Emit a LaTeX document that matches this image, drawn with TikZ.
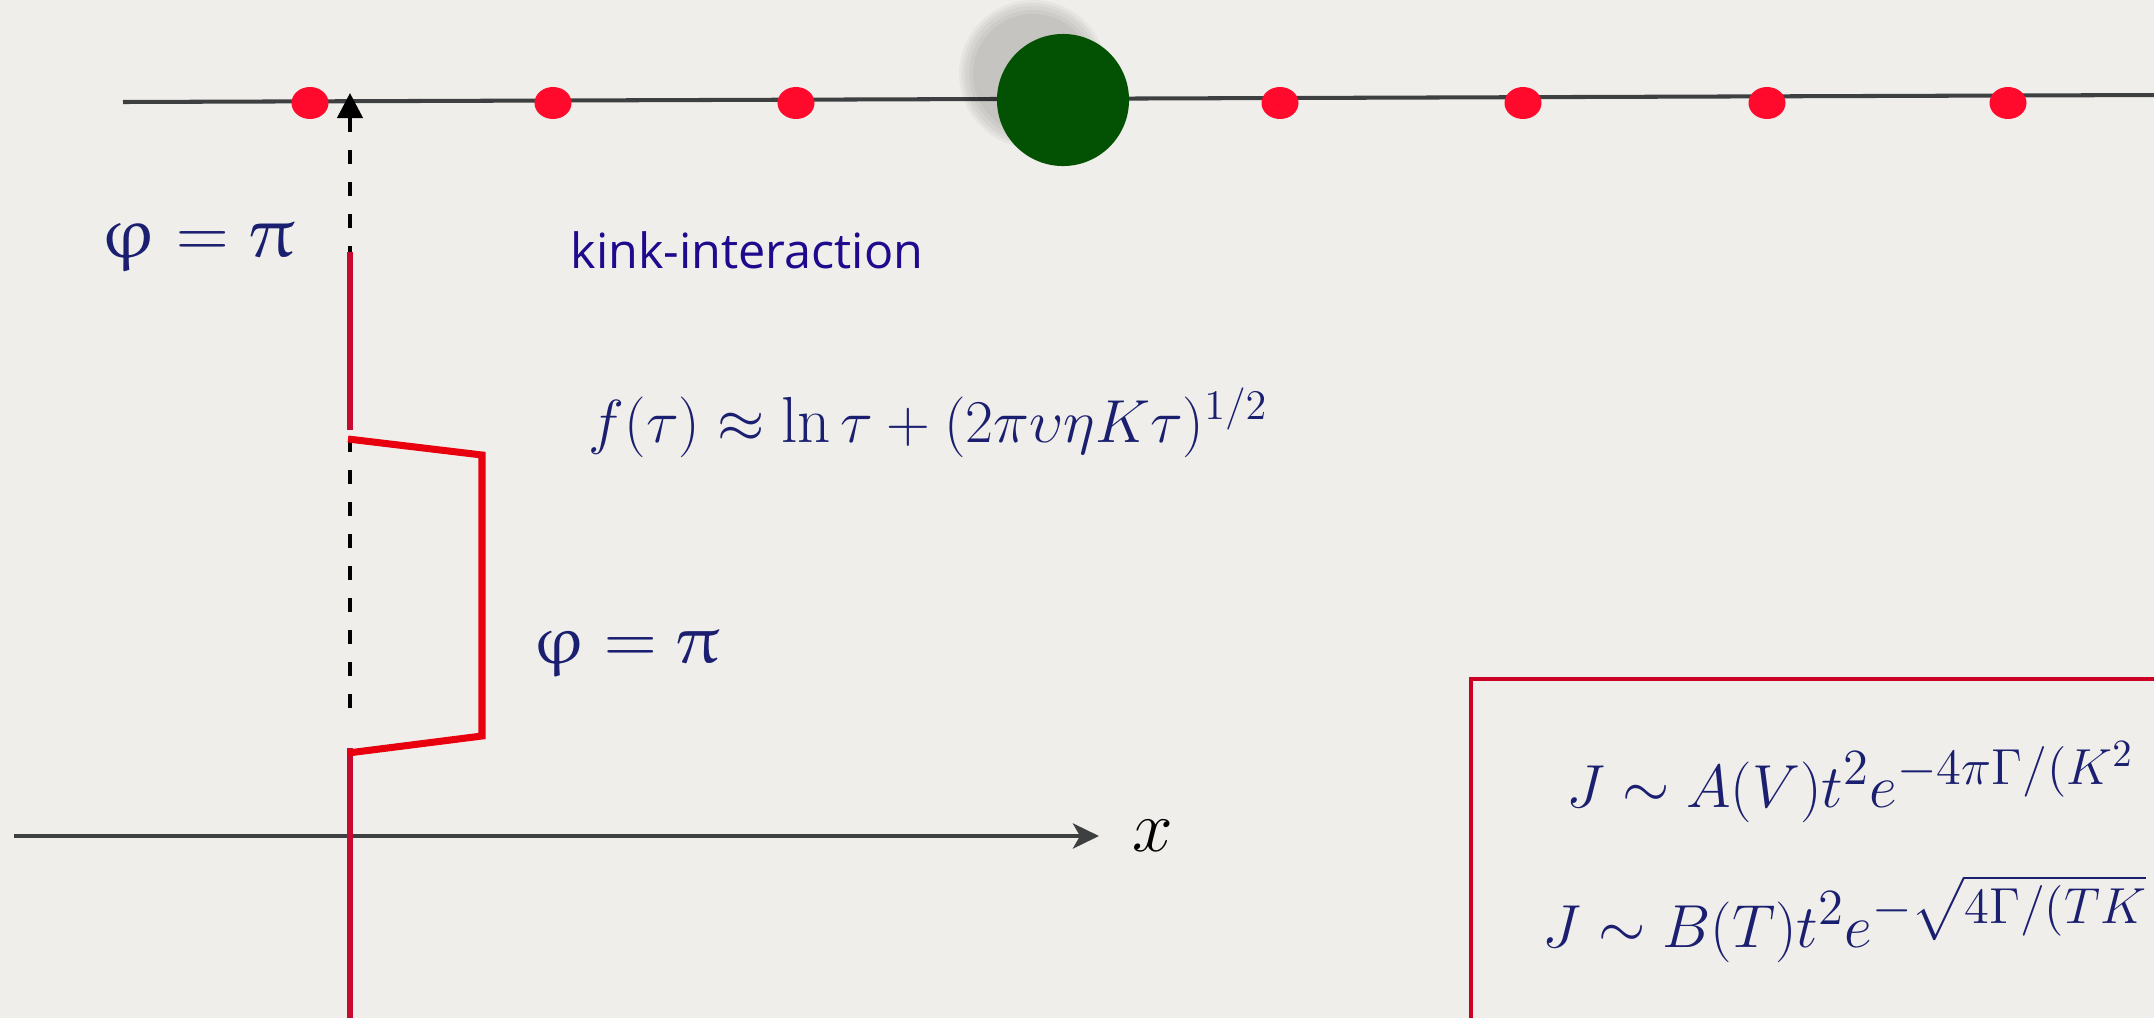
\documentclass[tikz,border=0pt]{standalone}
\usepackage{amsmath}
\usepackage{amssymb}
\usepackage{xcolor}
\usepackage{fontspec}
\newfontfamily\kinkfont{Open Sans}
\usetikzlibrary{arrows.meta,shapes.geometric}
\newcommand{\eulch}[1]{{\usefont{U}{eur}{m}{n}\char#1}}
\newcommand{\phasepi}{\eulch{39}\hspace{0.2778em}$=$\hspace{0.2778em}\eulch{25}}
\newcommand{\bigexp}[1]{\mbox{\fontsize{15}{18}\selectfont$#1$}}
\definecolor{paper}{HTML}{EFEEEA}
\definecolor{lineink}{HTML}{3E3F41}
\definecolor{dotred}{HTML}{FF0A2D}
\definecolor{wallred}{HTML}{C80A32}
\definecolor{bendred}{HTML}{E8000E}
\definecolor{boxred}{HTML}{CC0025}
\definecolor{kinkgreen}{HTML}{035203}
\definecolor{formulablue}{HTML}{1B1F70}
\definecolor{labelindigo}{HTML}{1E0A8C}

\begin{document}
\begin{tikzpicture}[
  x=0.01cm,
  y=-0.01cm,
  every node/.style={inner sep=0pt, formulablue},
  chain/.style={lineink, line width=1.15pt},
  axis/.style={lineink, line width=1.3pt,
               -{Stealth[length=0.26cm, width=0.25cm, inset=0.07cm]}},
  guide/.style={black, line width=1.2pt, dash pattern=on 0.14cm off 0.18cm,
                -{Triangle[length=0.25cm, width=0.25cm]}},
  wall/.style={wallred, line width=1.8pt},
  wallbend/.style={bendred, line width=2pt, line join=miter},
  boxline/.style={boxred, line width=1.4pt},
  sitept/.style={ellipse, fill=dotred, minimum width=0.37cm,
                 minimum height=0.32cm},
  kinkpt/.style={circle, fill=kinkgreen, minimum size=1.32cm},
  phaselbl/.style={anchor=base west},
  eqlbl/.style={anchor=base west, font=\fontsize{19}{23}\selectfont}
]
  % ---- page ----
  \useasboundingbox (0,0) rectangle (2154,1018);
  \fill[paper] (0,0) rectangle (2154,1018);
  \clip (0,0) rectangle (2154,1018);

  % ---- chain of sites ----
  \coordinate (chainL) at (123,102);
  \coordinate (chainR) at (2160,95);
  \draw[chain] (chainL) -- (chainR);

  % ---- kink with its soft shadow ----
  \foreach \r in {74,71,68,64,60}
    \fill[black, opacity=0.035] (1033,74) circle[radius=\r];
  \node[kinkpt] (kink) at (1063,100) {};

  % ---- lattice sites ----
  \foreach \x [count=\i] in {310,553,796,1280,1523,1767,2008}
    \node[sitept] (site\i) at (\x,103) {};

  % ---- x axis ----
  \coordinate (axisL) at (14,836);
  \coordinate (axisR) at (1099,836);
  \draw[axis] (axisL) -- (axisR);
  \node[anchor=base west, black, font=\fontsize{21}{24}\selectfont]
    (xlbl) at (1132,851) {$x$};

  % ---- straight path of the wall (dashed, under the wall) ----
  \coordinate (guideB) at (350,708);
  \coordinate (guideT) at (350,93);
  \draw[guide] (guideB) -- (guideT);

  % ---- phase wall and its bent part ----
  \coordinate (wallA) at (350,252);
  \coordinate (wallB) at (350,430);
  \coordinate (wallC) at (350,748);
  \coordinate (wallD) at (350,1030);
  \draw[wall] (wallA) -- (wallB);
  \draw[wall] (wallC) -- (wallD);
  \coordinate (bendA) at (348,439);
  \coordinate (bendB) at (482,455);
  \coordinate (bendC) at (482,736);
  \coordinate (bendD) at (348,753);
  \draw[wallbend] (bendA) -- (bendB) -- (bendC) -- (bendD);

  % ---- labels ----
  \node[phaselbl, font=\fontsize{20.7}{24}\selectfont] (phitop) at (100,257) {\phasepi};
  \node[phaselbl, font=\fontsize{19.7}{23}\selectfont] (phimid) at (532,663) {\phasepi};
  \node[anchor=base west, labelindigo, font=\kinkfont\fontsize{13.8}{16}\selectfont]
    (kinklbl) at (570,268) {kink-interaction};
  \node[anchor=base west, font=\fontsize{18.5}{22}\selectfont] (ftau) at (588,442)
    {$f(\tau)\approx\ln\tau+(2\pi\upsilon\eta K\tau)^{1/2}$};

  % ---- current box ----
  \coordinate (boxBL) at (1471,1040);
  \coordinate (boxTL) at (1471,679);
  \coordinate (boxTR) at (2180,679);
  \draw[boxline] (boxBL) -- (boxTL) -- (boxTR);
  \node[eqlbl] (jvolt) at (1566,807)
    {$J\sim A(V)t^2e^{\bigexp{-4\pi\Gamma/(K^2}}$};
  \node[eqlbl] (jtemp) at (1542,947)
    {$J\sim B(T)t^2e^{\bigexp{-\sqrt{4\Gamma/(TK}}}$};
\end{tikzpicture}
\end{document}
